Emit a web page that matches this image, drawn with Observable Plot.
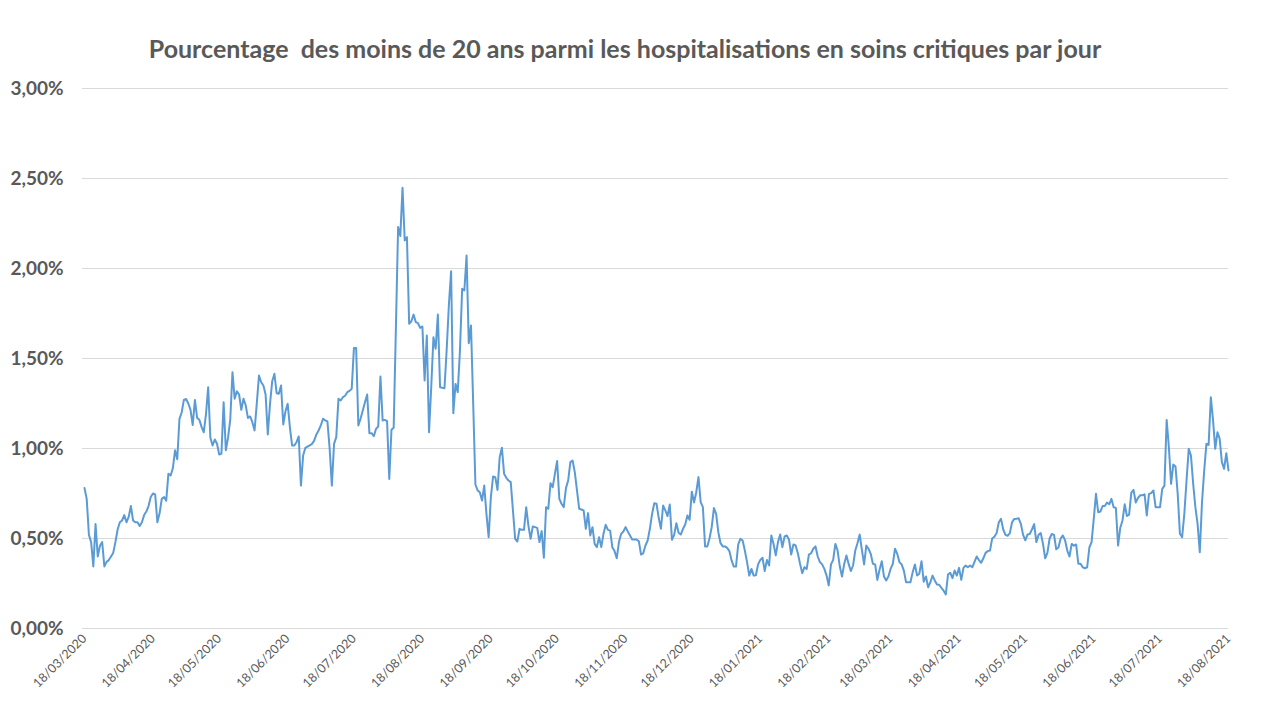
<!DOCTYPE html>
<html><head><meta charset="utf-8">
<script src="https://cdn.jsdelivr.net/npm/d3@7"></script>
<script src="https://cdn.jsdelivr.net/npm/@observablehq/plot@0.6"></script>
<style>
body{margin:0;background:#fff;width:1280px;height:720px;overflow:hidden;font-family:Lato,sans-serif;position:relative}
#title{position:absolute;left:0;top:0;width:1250px;height:70px;box-sizing:border-box;padding-top:33px;text-align:center;font-weight:bold;font-size:25px;color:#595959;white-space:pre;line-height:30px}
#chart{position:absolute;left:0;top:70px}
</style></head><body>
<div id="title"></div>
<div id="chart"></div>
<script>
const title = "Pourcentage  des moins de 20 ans parmi les hospitalisations en soins critiques par jour";
const startDate = "2020-03-18";
// daily share (%) from 18/03/2020 to 18/08/2021
const pct = [
.78,.72,.52,.48,.345,.58,.40,.46,.48,.345,
.37,.38,.40,.42,.48,.55,.59,.60,.63,.59,
.62,.68,.60,.59,.59,.57,.59,.63,.65,.68,
.73,.75,.745,.59,.64,.72,.73,.71,.86,.85,
.89,.99,.94,1.165,1.20,1.27,1.275,1.25,1.215,1.13,
1.27,1.17,1.16,1.12,1.09,1.19,1.34,1.06,1.017,1.05,
1.026,.967,.97,1.257,.99,1.06,1.16,1.424,1.276,1.318,
1.30,1.215,1.276,1.24,1.17,1.178,1.146,1.10,1.248,1.405,
1.368,1.35,1.30,1.078,1.248,1.374,1.415,1.307,1.304,1.35,
1.133,1.207,1.248,1.118,1.017,1.017,1.035,1.067,.794,.961,
1.004,1.011,1.017,1.026,1.044,1.078,1.10,1.128,1.165,1.156,
1.15,1.0,.794,1.026,1.063,1.276,1.267,1.285,1.293,1.313,
1.32,1.332,1.559,1.559,1.128,1.165,1.211,1.257,1.30,1.085,
1.085,1.068,1.109,1.122,1.40,1.156,1.159,1.152,.831,1.104,
1.115,1.67,2.23,2.18,2.448,2.156,2.174,1.693,1.707,1.744,
1.702,1.696,1.67,1.678,1.378,1.628,1.09,1.34,1.618,1.554,
1.744,1.34,1.337,1.335,1.55,1.80,1.985,1.196,1.359,1.313,
1.544,1.887,1.878,2.072,1.585,1.683,1.25,.80,.767,.757,
.711,.794,.637,.507,.73,.844,.841,.77,.952,1.004,
.859,.837,.822,.813,.656,.498,.483,.554,.548,.548,
.674,.572,.498,.567,.563,.559,.48,.541,.393,.674,
.665,.807,.785,.859,.93,.72,.693,.674,.78,.822,
.924,.933,.869,.767,.665,.661,.656,.554,.641,.517,
.563,.47,.452,.507,.452,.526,.576,.548,.544,.452,
.43,.39,.48,.526,.539,.563,.539,.517,.494,.494,
.494,.485,.411,.418,.461,.489,.554,.637,.696,.693,
.615,.554,.683,.656,.624,.689,.493,.52,.585,.532,
.522,.554,.578,.628,.604,.76,.70,.757,.841,.702,
.674,.456,.456,.50,.563,.669,.637,.535,.474,.456,
.456,.448,.43,.378,.344,.344,.467,.498,.489,.433,
.369,.294,.331,.294,.296,.356,.381,.393,.319,.381,
.35,.517,.47,.406,.48,.522,.452,.511,.517,.493,
.411,.467,.461,.418,.359,.307,.341,.33,.41,.418,
.443,.456,.40,.369,.356,.331,.294,.239,.356,.381,
.47,.433,.344,.289,.359,.406,.359,.319,.35,.433,
.474,.522,.437,.356,.461,.443,.415,.359,.356,.27,
.326,.374,.289,.267,.289,.331,.359,.443,.415,.369,
.356,.322,.257,.257,.257,.313,.356,.294,.304,.374,
.26,.289,.229,.257,.294,.267,.244,.243,.226,.21,
.189,.30,.31,.28,.322,.294,.337,.27,.337,.35,
.34,.35,.34,.37,.40,.38,.365,.39,.42,.43,
.433,.50,.51,.53,.59,.609,.55,.52,.515,.53,
.59,.609,.61,.612,.58,.52,.49,.522,.525,.55,
.58,.48,.52,.53,.47,.39,.42,.50,.525,.52,
.44,.45,.50,.517,.49,.433,.40,.47,.46,.467,
.36,.36,.34,.335,.34,.45,.48,.61,.748,.646,
.65,.68,.68,.70,.69,.72,.674,.67,.461,.56,
.60,.69,.625,.633,.755,.77,.70,.725,.74,
.74,.745,.628,.748,.752,.767,.674,.674,.674,.776,
.794,1.159,1.007,.804,.911,.90,.748,.526,.507,.637,
.822,.998,.961,.804,.674,.581,.424,.70,.878,1.026,
1.02,1.285,1.156,.998,1.09,1.054,.924,.887,.974,.878
];
const xTickLabels = ["18/03/2020","18/04/2020","18/05/2020","18/06/2020","18/07/2020","18/08/2020","18/09/2020","18/10/2020","18/11/2020","18/12/2020","18/01/2021","18/02/2021","18/03/2021","18/04/2021","18/05/2021","18/06/2021","18/07/2021","18/08/2021"];
const yTicks = [0, 0.5, 1, 1.5, 2, 2.5, 3];

document.getElementById("title").textContent = title;
const parseTick = d3.utcParse("%d/%m/%Y");
const xTicks = xTickLabels.map(parseTick);
const start = new Date(startDate + "T00:00:00Z");
const data = pct.map((v, i) => ({date: d3.utcDay.offset(start, i), value: v}));

const chart = Plot.plot({
  width: 1280, height: 650,
  marginTop: 18, marginBottom: 92, marginLeft: 82, marginRight: 52,
  insetLeft: 2,
  style: {fontFamily: "Lato, sans-serif", color: "#595959", background: "#fff", overflow: "visible"},
  x: {type: "utc", domain: [xTicks[0], xTicks[xTicks.length - 1]], label: null},
  y: {domain: [0, 3], label: null},
  marks: [
    Plot.gridY(yTicks, {stroke: "#d9d9d9", strokeOpacity: 1, strokeWidth: 1}),
    Plot.axisY(yTicks, {label: null, tickSize: 0, tickPadding: 19, tickFormat: d => d.toFixed(2).replace(".", ",") + "%", fontSize: 19, fontWeight: "bold", fill: "#595959"}),
    Plot.axisX(xTicks, {label: null, tickSize: 0, tickPadding: 8, tickRotate: -45, tickFormat: d3.utcFormat("%d/%m/%Y"), fontSize: 12.5, fill: "#595959"}),
    Plot.lineY(data, {x: "date", y: "value", stroke: "#5B9BD5", strokeWidth: 2})
  ]
});
document.getElementById("chart").appendChild(chart);
</script>
</body></html>
